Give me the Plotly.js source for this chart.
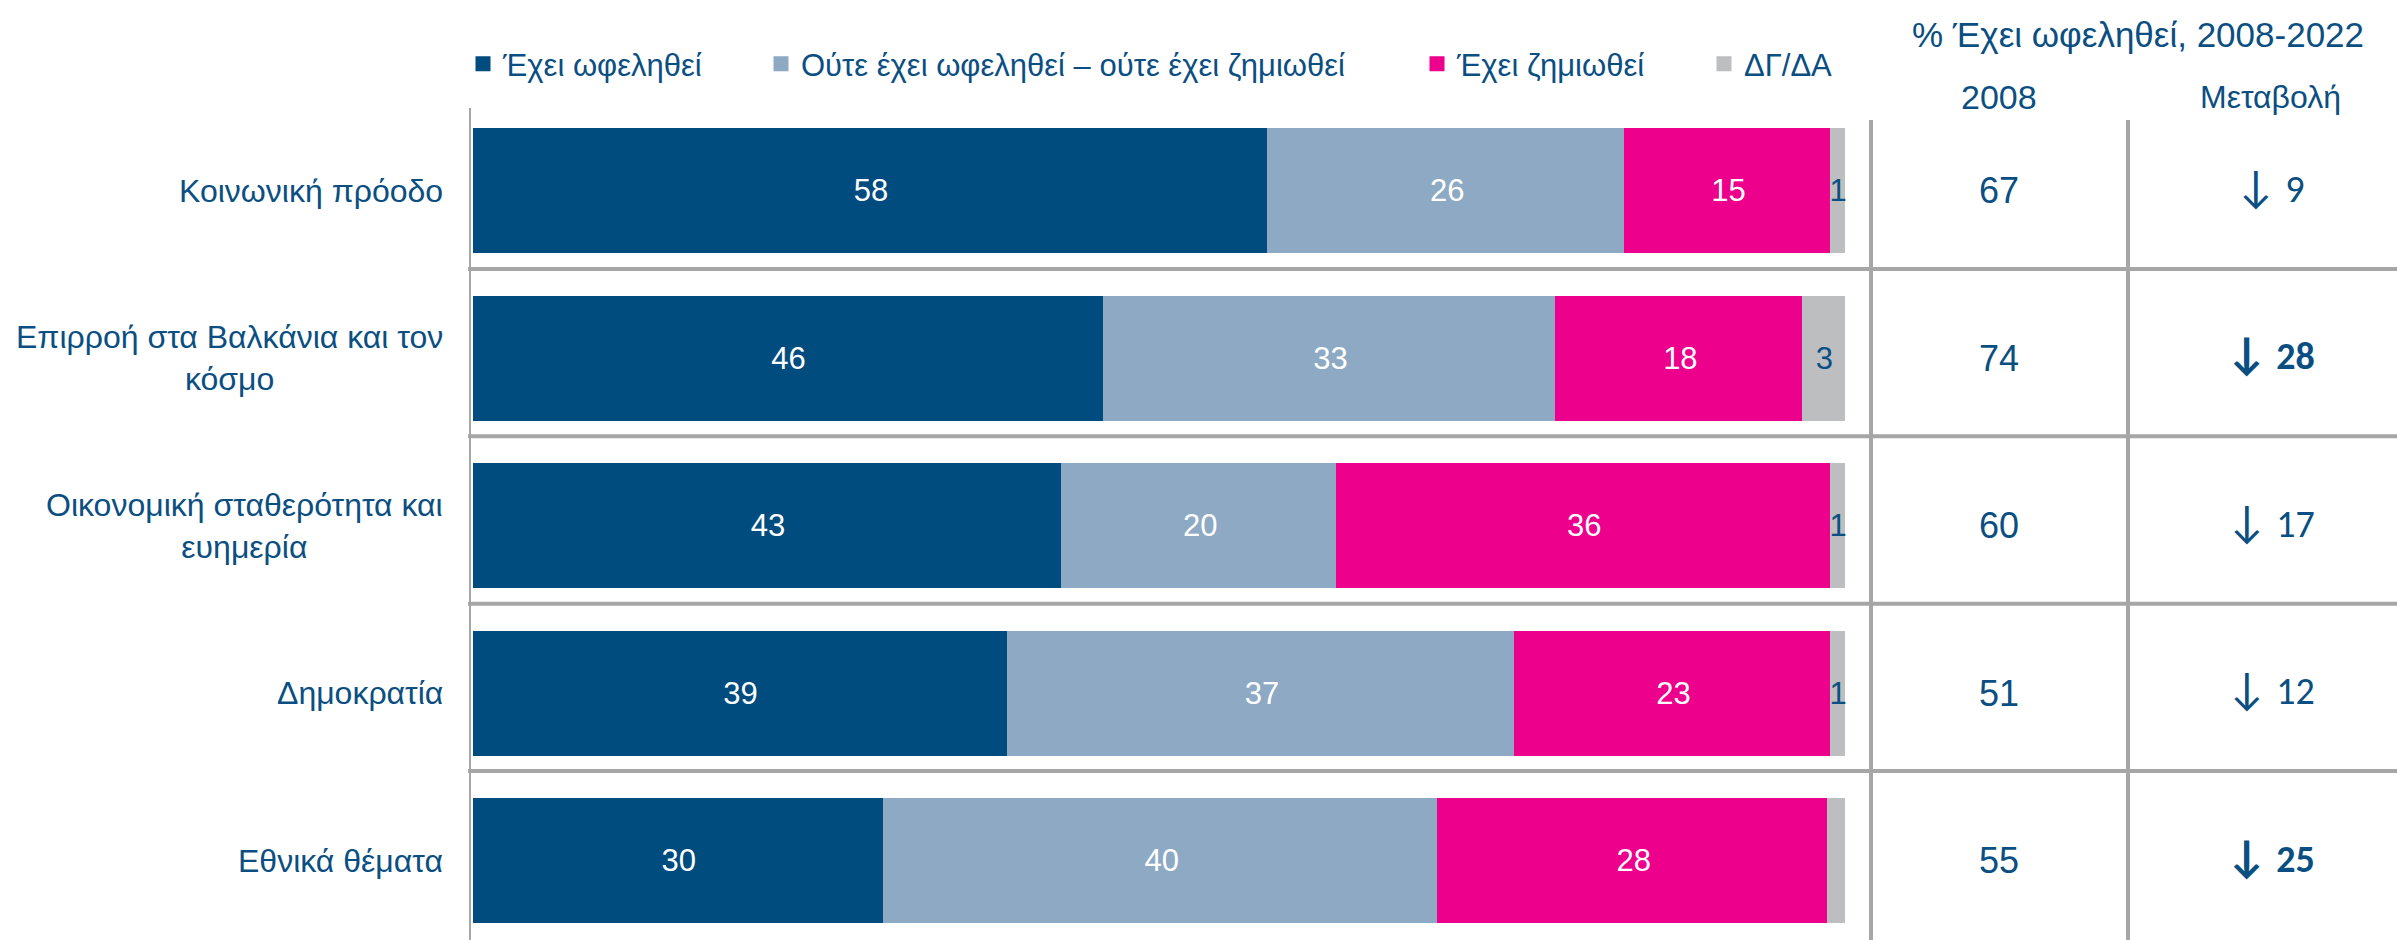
<!DOCTYPE html>
<html><head><meta charset="utf-8">
<script src="https://cdn.plot.ly/plotly-3.0.1.min.js"></script>
<style>html,body{margin:0;padding:0;background:#fff}#chart{width:2397px;height:940px}</style>
</head><body><div id="chart"></div>
<script>
// ---- data ----
const categories = ["Κοινωνική πρόοδο", "Επιρροή στα Βαλκάνια και τον<br>κόσμο", "Οικονομική σταθερότητα και<br>ευημερία", "Δημοκρατία", "Εθνικά θέματα"];
const seriesNames = ["Έχει ωφεληθεί", "Ούτε έχει ωφεληθεί – ούτε έχει ζημιωθεί", "Έχει ζημιωθεί", "ΔΓ/ΔΑ"];
const benefited = [58, 46, 43, 39, 30];
const neither = [26, 33, 20, 37, 40.4];
const harmed = [15, 18, 36, 23, 28.4];
const dkna = [1, 3, 1, 1, 1.2];
const benefited2008 = [67, 74, 60, 51, 55];
const change = [-9, -28, -17, -12, -25];
const changeBold = [false, true, false, false, true];
const headerTitle = "% Έχει ωφεληθεί, 2008-2022";
const colHeaders = ["2008", "Μεταβολή"];

// ---- style ----
const W = 2397, H = 940;
const TXT = '#0B4F82';
const GRID = '#A6A6A6';
const colors = ['#004C7F', '#8DA9C4', '#EC008C', '#BCBEC0'];
const labelColors = ['#FFFFFF', '#FFFFFF', '#FFFFFF', TXT];
const baseFont = 'Liberation Sans, Arial, sans-serif';
const calFont = 'Carlito, Calibri, Lato, sans-serif';
const px = v => v / W;
const py = v => 1 - v / H;

const series = [benefited, neither, harmed, dkna];
const legendIds = ['legend', 'legend2', 'legend3', 'legend4'];
const legendLeft = [463, 761, 1417, 1704];

const traces = series.map((vals, k) => ({
  type: 'bar', orientation: 'h',
  x: vals, y: categories, name: seriesNames[k],
  marker: { color: colors[k], line: { color: colors[k], width: 3 } },
  texttemplate: '%{x:.0f}',
  textposition: 'inside', insidetextanchor: 'middle', textangle: 0,
  constraintext: 'none', cliponaxis: false,
  textfont: { family: baseFont, size: 31, color: labelColors[k] },
  hoverinfo: 'skip',
  legend: legendIds[k]
}));

const shapes = [];
// left axis line
shapes.push({ type: 'line', xref: 'paper', yref: 'paper', x0: px(470), x1: px(470), y0: py(108), y1: 0, line: { color: GRID, width: 2 } });
// horizontal row separators
for (let i = 0; i < categories.length - 1; i++) {
  shapes.push({ type: 'line', xref: 'paper', yref: 'y', x0: px(468), x1: 1, y0: i + 0.466, y1: i + 0.466, line: { color: GRID, width: 4 } });
}
// vertical column separators
[1871, 2128].forEach(x => shapes.push({ type: 'line', xref: 'paper', yref: 'paper', x0: px(x), x1: px(x), y0: py(120), y1: 0, line: { color: GRID, width: 4 } }));

const arrowSpan = '<span style="font-size:46px">↓</span>';
const annotations = [];
categories.forEach((c, i) => {
  annotations.push({ xref: 'paper', yref: 'y', x: px(445), y: c, text: c, showarrow: false, xanchor: 'right', yanchor: 'middle', align: 'center', font: { family: baseFont, size: 32, color: TXT } });
  annotations.push({ xref: 'paper', yref: 'y', x: px(1999), y: c, text: String(benefited2008[i]), showarrow: false, xanchor: 'center', yanchor: 'middle', font: { family: baseFont, size: 36, color: TXT } });
  const t = arrowSpan + ' ' + Math.abs(change[i]);
  annotations.push({ xref: 'paper', yref: 'y', x: px(2270), y: c, yshift: 5, text: changeBold[i] ? '<b>' + t + '</b>' : t, showarrow: false, xanchor: 'center', yanchor: 'middle', font: { family: calFont, size: 38, color: TXT } });
});
annotations.push({ xref: 'paper', yref: 'paper', x: px(2138), y: py(34), text: headerTitle, showarrow: false, xanchor: 'center', yanchor: 'middle', font: { family: baseFont, size: 35, color: TXT } });
annotations.push({ xref: 'paper', yref: 'paper', x: px(1999), y: py(97), text: colHeaders[0], showarrow: false, xanchor: 'center', yanchor: 'middle', font: { family: baseFont, size: 34, color: TXT } });
annotations.push({ xref: 'paper', yref: 'paper', x: px(2270), y: py(97), text: colHeaders[1], showarrow: false, xanchor: 'center', yanchor: 'middle', font: { family: baseFont, size: 32, color: TXT } });

const layout = {
  width: W, height: H,
  margin: { l: 0, r: 0, t: 0, b: 0, pad: 0 },
  paper_bgcolor: '#FFFFFF', plot_bgcolor: 'rgba(0,0,0,0)',
  barmode: 'stack', bargap: 0.271,
  font: { family: baseFont, color: TXT },
  xaxis: { domain: [px(473), px(1845)], range: [0, 100], visible: false, fixedrange: true },
  yaxis: { type: 'category', categoryorder: 'array', categoryarray: categories, range: [4.475, -1.141], visible: false, fixedrange: true },
  showlegend: true,
  shapes, annotations
};
legendIds.forEach((id, k) => {
  layout[id] = { orientation: 'h', x: px(legendLeft[k]), xanchor: 'left', y: py(64), yanchor: 'middle', bgcolor: 'rgba(0,0,0,0)', borderwidth: 0, font: { family: baseFont, size: 31, color: TXT } };
});

Plotly.newPlot('chart', traces, layout, { displayModeBar: false, staticPlot: true });
</script>
</body></html>
